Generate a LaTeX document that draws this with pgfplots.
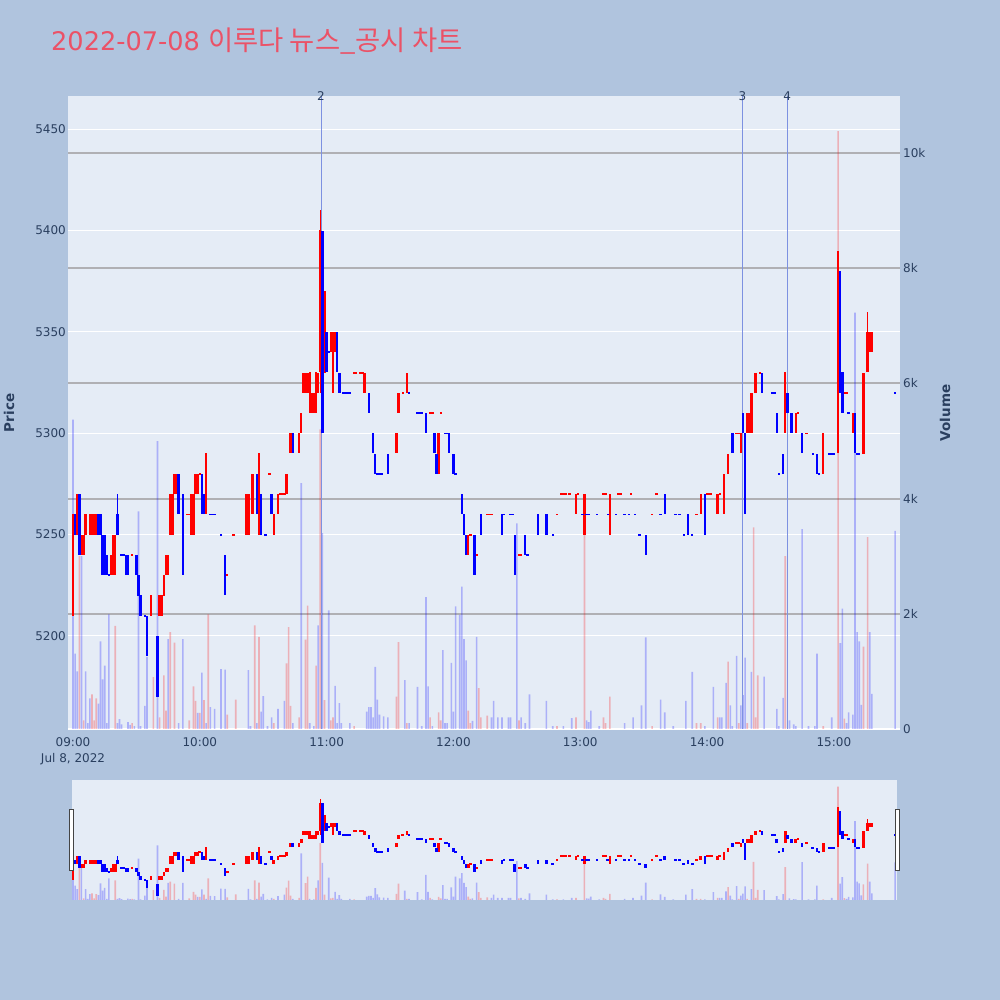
\documentclass[border=0pt]{standalone}
\usepackage{pgfplots}
\pgfplotsset{compat=1.18}
\usepackage{pgfplotstable}
\usepackage{fontspec}
\setmainfont{DejaVu Sans}
\newfontfamily\krfont{Noto Sans CJK KR}
\definecolor{pagebg}{RGB}{176,196,222}
\definecolor{plotbg}{RGB}{229,236,246}
\definecolor{tickc}{RGB}{42,63,95}
\definecolor{titlec}{RGB}{235,82,103}
\definecolor{vgrid}{RGB}{176,176,180}
\definecolor{cred}{RGB}{255,0,0}
\definecolor{cblue}{RGB}{0,0,255}
\definecolor{annot}{RGB}{125,145,225}

% red (increasing) candles: minute from 09:00, open, close, high, low
\pgfplotstableread{
m o c h l
0 5210 5260 5260 5210
2 5250 5270 5270 5250
4 5240 5250 5250 5240
5 5240 5250 5250 5240
6 5250 5260 5260 5250
8 5250 5260 5260 5250
9 5250 5260 5260 5250
10 5250 5260 5260 5250
11 5250 5260 5260 5250
18 5230 5240 5240 5230
19 5230 5250 5250 5230
20 5230 5250 5250 5230
28 5240 5240 5240 5240
37 5210 5220 5220 5210
41 5210 5220 5220 5210
42 5210 5220 5220 5210
43 5220 5230 5230 5220
44 5230 5240 5240 5230
45 5230 5240 5240 5230
46 5250 5270 5270 5250
47 5250 5270 5270 5250
48 5270 5280 5280 5270
49 5270 5280 5280 5270
54 5260 5260 5260 5260
55 5260 5260 5260 5260
56 5250 5270 5270 5250
57 5250 5270 5270 5250
58 5270 5280 5280 5270
59 5270 5280 5280 5270
60 5280 5280 5280 5280
63 5260 5290 5290 5260
73 5230 5230 5230 5230
76 5250 5250 5250 5250
82 5250 5270 5270 5250
83 5250 5270 5270 5250
85 5260 5280 5280 5260
88 5250 5290 5290 5250
93 5280 5280 5280 5280
95 5250 5260 5260 5250
97 5260 5270 5270 5260
98 5270 5270 5270 5270
99 5270 5270 5270 5270
100 5270 5270 5270 5270
101 5270 5280 5280 5270
103 5290 5300 5300 5290
107 5290 5300 5300 5290
108 5300 5310 5310 5300
109 5320 5330 5330 5320
110 5320 5330 5330 5320
111 5320 5330 5330 5320
112 5310 5330 5330 5310
113 5310 5320 5320 5310
114 5310 5320 5320 5310
115 5310 5330 5330 5310
116 5320 5330 5330 5320
117 5330 5400 5410 5320
119 5330 5370 5370 5330
122 5340 5350 5350 5340
123 5320 5350 5350 5320
124 5340 5350 5350 5340
133 5330 5330 5330 5330
134 5330 5330 5330 5330
136 5330 5330 5330 5330
137 5330 5330 5330 5330
138 5320 5330 5330 5320
153 5290 5300 5300 5290
154 5310 5320 5320 5310
156 5320 5320 5320 5320
158 5320 5330 5330 5320
169 5310 5310 5310 5310
170 5310 5310 5310 5310
173 5280 5300 5300 5280
174 5310 5310 5310 5310
187 5240 5250 5250 5240
188 5250 5250 5250 5250
191 5240 5240 5240 5240
196 5260 5260 5260 5260
197 5260 5260 5260 5260
198 5260 5260 5260 5260
211 5240 5240 5240 5240
212 5240 5240 5240 5240
229 5260 5260 5260 5260
231 5270 5270 5270 5270
232 5270 5270 5270 5270
233 5270 5270 5270 5270
235 5270 5270 5270 5270
238 5260 5270 5270 5260
239 5270 5270 5270 5270
242 5250 5270 5270 5250
251 5270 5270 5270 5270
252 5270 5270 5270 5270
254 5250 5270 5270 5250
258 5270 5270 5270 5270
259 5270 5270 5270 5270
264 5270 5270 5270 5270
274 5260 5260 5260 5260
276 5270 5270 5270 5270
295 5260 5260 5260 5260
297 5260 5270 5270 5260
300 5270 5270 5270 5270
301 5270 5270 5270 5270
302 5270 5270 5270 5270
305 5260 5270 5270 5260
306 5270 5270 5270 5270
308 5260 5280 5280 5260
310 5280 5290 5290 5280
314 5300 5300 5300 5300
315 5300 5300 5300 5300
316 5290 5300 5300 5290
319 5300 5310 5310 5300
320 5300 5310 5310 5300
321 5300 5320 5320 5300
323 5320 5330 5330 5320
325 5330 5330 5330 5330
337 5300 5330 5330 5300
342 5300 5310 5310 5300
343 5310 5310 5310 5310
347 5300 5300 5300 5300
355 5280 5300 5300 5280
362 5290 5390 5390 5290
365 5320 5320 5320 5320
366 5320 5320 5320 5320
369 5300 5310 5310 5300
374 5290 5330 5330 5290
376 5330 5350 5360 5330
377 5340 5350 5350 5340
378 5340 5350 5350 5340
}\redc

% blue (decreasing) candles
\pgfplotstableread{
m o c h l
1 5260 5250 5260 5250
3 5270 5240 5270 5240
12 5260 5250 5260 5250
13 5260 5250 5260 5250
14 5250 5230 5250 5230
15 5250 5230 5250 5230
16 5240 5230 5240 5230
17 5230 5230 5230 5230
21 5260 5250 5270 5250
23 5240 5240 5240 5240
24 5240 5240 5240 5240
25 5240 5230 5240 5230
26 5240 5230 5240 5230
30 5240 5230 5240 5230
31 5230 5220 5230 5220
32 5220 5210 5220 5210
34 5210 5210 5210 5210
35 5210 5190 5210 5190
40 5200 5170 5200 5170
50 5280 5260 5280 5260
52 5270 5230 5270 5230
61 5280 5260 5280 5260
62 5270 5260 5270 5260
65 5260 5260 5260 5260
66 5260 5260 5260 5260
67 5260 5260 5260 5260
70 5250 5250 5250 5250
72 5240 5220 5240 5220
87 5280 5260 5280 5260
89 5270 5250 5270 5250
91 5250 5250 5250 5250
94 5270 5260 5270 5260
104 5300 5290 5300 5290
118 5400 5300 5400 5300
120 5350 5330 5350 5330
121 5340 5340 5340 5340
125 5350 5330 5350 5330
126 5330 5320 5330 5320
128 5320 5320 5320 5320
129 5320 5320 5320 5320
130 5320 5320 5320 5320
131 5320 5320 5320 5320
140 5320 5310 5320 5310
142 5300 5290 5300 5290
143 5290 5280 5290 5280
144 5280 5280 5280 5280
145 5280 5280 5280 5280
146 5280 5280 5280 5280
149 5290 5280 5290 5280
159 5320 5320 5320 5320
163 5310 5310 5310 5310
164 5310 5310 5310 5310
165 5310 5310 5310 5310
167 5310 5300 5310 5300
171 5300 5290 5300 5290
172 5290 5280 5290 5280
176 5300 5300 5300 5300
177 5300 5300 5300 5300
178 5300 5290 5300 5290
180 5290 5280 5290 5280
181 5280 5280 5280 5280
184 5270 5260 5270 5260
185 5260 5250 5260 5250
186 5250 5240 5250 5240
190 5250 5230 5250 5230
193 5260 5250 5260 5250
203 5260 5250 5260 5250
204 5260 5260 5260 5260
207 5260 5260 5260 5260
208 5260 5260 5260 5260
209 5250 5230 5250 5230
214 5250 5240 5250 5240
215 5240 5240 5240 5240
220 5260 5250 5260 5250
224 5260 5250 5260 5250
227 5250 5250 5250 5250
241 5260 5260 5260 5260
243 5260 5260 5260 5260
244 5260 5260 5260 5260
248 5260 5260 5260 5260
253 5260 5260 5260 5260
257 5260 5260 5260 5260
261 5260 5260 5260 5260
263 5260 5260 5260 5260
266 5260 5260 5260 5260
268 5250 5250 5250 5250
271 5250 5240 5250 5240
278 5260 5260 5260 5260
280 5270 5260 5270 5260
285 5260 5260 5260 5260
287 5260 5260 5260 5260
289 5250 5250 5250 5250
291 5260 5250 5260 5250
293 5250 5250 5250 5250
299 5270 5250 5270 5250
312 5300 5290 5300 5290
317 5310 5300 5310 5300
318 5300 5260 5300 5260
326 5330 5320 5330 5320
331 5320 5320 5320 5320
332 5320 5320 5320 5320
333 5310 5300 5310 5300
334 5280 5280 5280 5280
336 5290 5280 5290 5280
338 5320 5310 5320 5310
340 5310 5300 5310 5300
345 5300 5290 5300 5290
350 5290 5290 5290 5290
352 5290 5280 5290 5280
353 5280 5280 5280 5280
358 5290 5290 5290 5290
359 5290 5290 5290 5290
360 5290 5290 5290 5290
363 5380 5320 5380 5320
364 5330 5310 5330 5310
367 5310 5310 5310 5310
370 5310 5290 5310 5290
371 5290 5290 5290 5290
372 5290 5290 5290 5290
389 5320 5320 5320 5320
}\bluec

% volume (thousands) on up candles
\pgfplotstableread{
m v
3 3.0
5 0.15
9 0.6
10 0.15
11 0.53
20 1.79
28 0.1
38 0.9
41 0.2
43 0.93
44 0.32
46 1.68
48 1.5
55 0.15
57 0.74
58 0.49
60 0.28
62 0.5
64 1.99
73 0.25
77 0.51
86 1.8
88 1.6
95 0.1
101 1.14
102 1.77
103 0.4
107 0.2
110 1.55
111 2.14
115 1.1
117 5.2
119 0.5
122 0.15
123 0.2
133 0.05
153 0.56
154 1.51
158 0.1
169 0.2
173 0.29
174 0.15
187 0.32
188 0.1
192 0.71
193 0.2
196 0.23
211 0.15
229 0.05
238 0.2
242 3.38
251 0.2
252 0.1
254 0.56
274 0.05
295 0.1
297 0.1
305 0.2
310 1.17
315 0.1
319 0.1
322 3.5
323 0.2
324 0.93
337 3.0
355 0.05
362 10.38
365 0.18
374 1.43
376 3.33
}\redv

% volume (thousands) on down candles
\pgfplotstableread{
m v
0 5.37
1 1.31
2 1.0
4 3.0
6 1.0
7 0.1
8 0.53
12 0.44
13 1.52
14 0.86
15 1.1
16 0.1
17 1.99
21 0.1
22 0.17
23 0.08
26 0.12
27 0.07
29 0.05
31 3.78
32 0.05
34 0.4
35 1.25
40 5.0
45 1.56
50 0.1
52 1.56
59 0.28
61 0.98
63 0.1
65 0.38
67 0.35
70 1.04
72 1.03
83 1.02
84 0.05
87 0.1
89 0.3
90 0.57
92 0.05
94 0.2
97 0.35
100 0.49
104 0.1
108 4.27
112 0.1
114 0.05
116 1.8
118 3.4
121 2.06
124 0.75
125 0.1
126 0.45
127 0.1
131 0.1
139 0.3
140 0.38
141 0.38
142 0.2
143 1.08
144 0.51
145 0.25
147 0.22
149 0.2
157 0.85
159 0.1
163 0.73
165 0.05
167 2.29
168 0.74
170 0.05
175 1.37
176 0.1
177 0.1
179 1.15
180 0.3
181 2.13
183 1.98
184 2.47
185 1.56
186 1.19
189 0.14
191 1.6
198 0.2
199 0.49
201 0.2
203 0.2
206 0.2
207 0.2
210 3.57
212 0.2
214 0.1
216 0.6
224 0.49
227 0.05
232 0.05
236 0.19
243 0.15
244 0.12
245 0.32
249 0.05
261 0.1
265 0.2
269 0.41
271 1.59
278 0.51
280 0.29
284 0.05
290 0.49
293 0.99
299 0.05
303 0.73
306 0.2
307 0.2
309 0.8
311 0.41
312 0.05
314 1.27
316 0.41
317 0.59
318 1.24
321 0.99
327 0.91
333 0.35
334 0.05
336 0.54
339 0.15
341 0.08
342 0.05
345 3.47
348 0.05
351 0.05
352 1.31
359 0.2
363 1.49
364 2.09
366 0.1
367 0.29
369 0.25
370 7.23
371 1.68
372 1.52
373 0.42
377 1.68
378 0.61
389 3.44
}\bluev

\newcommand{\candles}[4]{%
  \addplot[draw=none, mark=none, forget plot,
    error bars/.cd, y dir=both, y explicit, error mark=none,
    error bar style={draw=#2, line width=1pt}]
    table[x=m, y expr={(\thisrow{h}+\thisrow{l})/2}, y error expr={(\thisrow{h}-\thisrow{l})/2}] {#1};
  \addplot[draw=none, mark=none, forget plot,
    error bars/.cd, y dir=both, y explicit, error mark=none,
    error bar style={draw=#2, line width=#3}]
    table[x=m, y expr={(\thisrow{o}+\thisrow{c})/2}, y error expr={max(abs(\thisrow{c}-\thisrow{o})/2,#4)}] {#1};
}
\newcommand{\volbars}[3]{%
  \addplot[ybar, bar width=#3, bar shift=0pt, fill=#2, fill opacity=0.25, draw=none, forget plot]
    table[x=m, y=v] {#1};
}

\pgfplotsset{
  base/.style={scale only axis, anchor=south west,
    axis line style={draw=none}, tick style={draw=none},
    major tick length=0pt,
    tick label style={font=\fontsize{12}{16}\selectfont, text=tickc},
    /pgf/number format/assume math mode=true,
    /pgf/number format/1000 sep={}},
}

\begin{document}
\begin{tikzpicture}[x=1pt,y=1pt]
\fill[pagebg] (0,0) rectangle (1000,1000);
\path[use as bounding box] (0,0) rectangle (1000,1000);

% ---------- main: price background axis with grid and tick labels
\begin{axis}[base, at={(68pt,271pt)}, width=832pt, height=633pt,
  xmin=-2.37, xmax=391.3, ymin=5154.1, ymax=5466.3,
  axis background/.style={fill=plotbg},
  ytick={5200,5250,...,5450},
  ymajorgrids, major grid style={white, line width=1pt},
  yticklabel style={anchor=east, inner sep=0pt, xshift=-2pt},
  xtick={0,60,120,180,240,300,360},
  xticklabels={{09:00\\Jul 8, 2022},10:00,11:00,12:00,13:00,14:00,15:00},
  xticklabel style={align=center, anchor=north, inner sep=0pt, yshift=-8.3pt},
]
\addplot[draw=none, forget plot] coordinates {(0,5300)};
\end{axis}

% ---------- main: volume axis
\begin{axis}[base, at={(68pt,271pt)}, width=832pt, height=633pt,
  xmin=-2.37, xmax=391.3, ymin=0, ymax=10.99,
  xtick=\empty,
  ytick={2,4,6,8,10}, yticklabels={2k,4k,6k,8k,10k},
  extra y ticks={0}, extra y tick labels={0},
  extra y tick style={major grid style={white, line width=2pt}},
  yticklabel pos=right,
  yticklabel style={anchor=west, inner sep=0pt, xshift=3pt},
  ymajorgrids, major grid style={vgrid, line width=2pt},
]
\volbars{\redv}{cred}{1.6pt}
\volbars{\bluev}{cblue}{1.6pt}
\end{axis}

% ---------- main: candles
\begin{axis}[base, at={(68pt,271pt)}, width=832pt, height=633pt,
  xmin=-2.37, xmax=391.3, ymin=5154.1, ymax=5466.3,
  xtick=\empty, ytick=\empty, clip=false,
]
\draw[annot, line width=1pt] (axis cs:117.35,5154.1) -- (axis cs:117.35,5466.3);
\draw[annot, line width=1pt] (axis cs:316.8,5154.1) -- (axis cs:316.8,5466.3);
\draw[annot, line width=1pt] (axis cs:337.9,5154.1) -- (axis cs:337.9,5466.3);
\node[text=tickc, font=\fontsize{12}{14}\selectfont, inner sep=0pt] at (axis cs:117.35,5466.3) {2};
\node[text=tickc, font=\fontsize{12}{14}\selectfont, inner sep=0pt] at (axis cs:316.8,5466.3) {3};
\node[text=tickc, font=\fontsize{12}{14}\selectfont, inner sep=0pt] at (axis cs:337.9,5466.3) {4};
\candles{\redc}{cred}{2.4pt}{0.3}
\candles{\bluec}{cblue}{2.4pt}{0.3}
\end{axis}

% ---------- range slider
\begin{axis}[base, at={(72pt,100pt)}, width=825pt, height=120pt,
  xmin=-0.47, xmax=389.9, ymin=0, ymax=10.99,
  xtick=\empty, ytick=\empty,
  axis background/.style={fill=plotbg},
]
\volbars{\redv}{cred}{1.6pt}
\volbars{\bluev}{cblue}{1.6pt}
\end{axis}
\begin{axis}[base, at={(72pt,100pt)}, width=825pt, height=120pt,
  xmin=-0.47, xmax=389.9, ymin=5160, ymax=5457,
  xtick=\empty, ytick=\empty,
]
\candles{\redc}{cred}{2.6pt}{2.4}
\candles{\bluec}{cblue}{2.6pt}{2.4}
\end{axis}
\draw[fill=white, draw={rgb,255:red,68;green,68;blue,68}, line width=1pt] (69.5,129.3) rectangle (73,190);
\draw[fill=white, draw={rgb,255:red,68;green,68;blue,68}, line width=1pt] (895.5,129.3) rectangle (899,190);

% ---------- texts
\node[anchor=base west, inner sep=0pt, text=titlec, font=\fontsize{25.6}{30}\selectfont] at (51,949.3)
  {2022-07-08 {\krfont\fontsize{27.4}{30}\selectfont 이루다 뉴스\_공시 차트}};
\node[rotate=90, text=tickc, font=\fontsize{13.5}{16}\selectfont\bfseries, inner sep=0pt] at (9,587) {Price};
\node[rotate=90, text=tickc, font=\fontsize{13.5}{16}\selectfont\bfseries, inner sep=0pt] at (945,587) {Volume};
\end{tikzpicture}
\end{document}
